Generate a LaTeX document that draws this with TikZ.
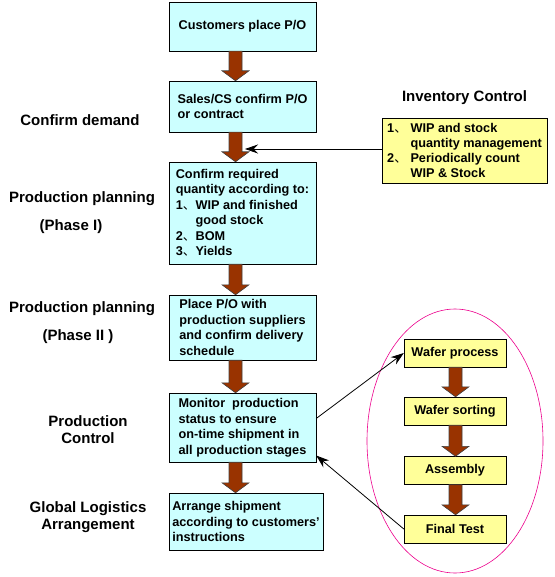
\documentclass[tikz,border=0pt]{standalone}
\usepackage{fontspec}
\setmainfont{Liberation Sans}
\newfontfamily\cjk{Noto Sans CJK SC}
\usepackage{tikz}
\usetikzlibrary{arrows.meta,calc}

\definecolor{boxblue}{HTML}{CCFFFF}
\definecolor{boxyellow}{HTML}{FFFF99}
\definecolor{arrowbrown}{HTML}{993300}

\newcommand{\itemno}[1]{#1{\cjk\mdseries 、}}
% brown block arrow from node #1 down to node #2, centred at x=#3
\newcommand{\flowarrow}[3]{%
  \filldraw[fill=arrowbrown, draw=black!75, line width=0.6pt]
    let \p1=(#1.south), \p2=(#2.north) in
    ({#3pt-6.5pt},\y1) -- ({#3pt-6.5pt},\y2+10pt) -- ({#3pt-13.5pt},\y2+10pt)
    -- ({#3pt},\y2) -- ({#3pt+13.5pt},\y2+10pt) -- ({#3pt+6.5pt},\y2+10pt)
    -- ({#3pt+6.5pt},\y1) -- cycle;}

\begin{document}
\begin{tikzpicture}[x=1pt, y=-1pt,
    flowbox/.style={draw, fill=boxblue, align=left, minimum width=147pt, inner sep=0pt,
      font=\fontsize{12.7}{15.5}\selectfont\bfseries},
    stagebox/.style={draw, fill=boxyellow, minimum width=102pt, minimum height=28pt, inner sep=0pt,
      font=\fontsize{12.7}{15.5}\selectfont\bfseries},
    sidelabel/.style={align=center, font=\fontsize{15}{17}\selectfont\bfseries},
    link/.style={-{Stealth[length=13pt,width=9pt]}, line width=0.8pt}]
    \useasboundingbox (0,0) rectangle (554,577);

    % main flow
    \node[flowbox, minimum height=49pt] (order) at (242.5,26.5) {Customers place P/O};
    \node[flowbox, minimum height=51pt] (confirm) at (242.5,106.5) {Sales/CS confirm P/O\\or contract};
    \node[flowbox, minimum height=102pt] (qty) at (242.5,213)
        {Confirm required\\quantity according to:\\\itemno{1}WIP and finished\\
         \hphantom{\itemno{1}}good stock\\\itemno{2}BOM\\\itemno{3}Yields};
    \node[flowbox, minimum height=65pt] (supplier) at (242.5,327.5)
        {Place P/O with\\production suppliers\\and confirm delivery\\schedule};
    \node[flowbox, minimum height=69pt] (monitor) at (242.5,427.5)
        {Monitor\ \ production\\status to ensure\\on-time shipment in\\all production stages};
    \node[flowbox, minimum width=154pt, minimum height=57pt] (ship) at (246,521.5)
        {Arrange shipment\\according to customers’\\instructions};

    \flowarrow{order}{confirm}{235.5}
    \flowarrow{confirm}{qty}{235.5}
    \flowarrow{qty}{supplier}{235.5}
    \flowarrow{supplier}{monitor}{235.5}
    \flowarrow{monitor}{ship}{235.5}

    % stage labels
    \node[sidelabel] (demand) at (80,120) {Confirm demand};
    \node[sidelabel] (plan1) at (82,199) {Production planning};
    \node[sidelabel] (phase1) at (71,227) {(Phase I)};
    \node[sidelabel] (plan2) at (82,309) {Production planning};
    \node[sidelabel] (phase2) at (78,337) {(Phase II\ )};
    \node[sidelabel] (control) at (88,429.5) {Production\\Control};
    \node[sidelabel] (logistics) at (88,517) {Global Logistics\\Arrangement};

    % inventory control
    \node[sidelabel] (invtitle) at (464.5,98) {Inventory Control};
    \node[draw, fill=boxyellow, align=left, minimum width=165pt, minimum height=65pt, inner sep=0pt,
          font=\fontsize{12.7}{15}\selectfont\bfseries] (inv) at (464.5,150.5)
        {\itemno{1} WIP and stock\\\hphantom{\itemno{1}\ }quantity management\\
         \itemno{2} Periodically count\\\hphantom{\itemno{1}\ }WIP \& Stock};
    \coordinate (invtip) at (245,149);
    \draw[link] (inv.west |- invtip) -- (invtip);

    % production stages
    \draw[magenta, line width=0.6pt] (455,441) ellipse [x radius=88pt, y radius=132pt];
    \node[stagebox] (wafer) at (455,353) {Wafer process};
    \node[stagebox] (sort) at (455,411) {Wafer sorting};
    \node[stagebox] (assy) at (455,470.5) {Assembly};
    \node[stagebox] (final) at (455,529) {Final Test};
    \flowarrow{wafer}{sort}{455.5}
    \flowarrow{sort}{assy}{455.5}
    \flowarrow{assy}{final}{455.5}

    \draw[link] ([yshift=9pt]monitor.east) -- (wafer.west);
    \draw[link] (final.west) -- ([yshift=-28pt]monitor.east);
\end{tikzpicture}
\end{document}
